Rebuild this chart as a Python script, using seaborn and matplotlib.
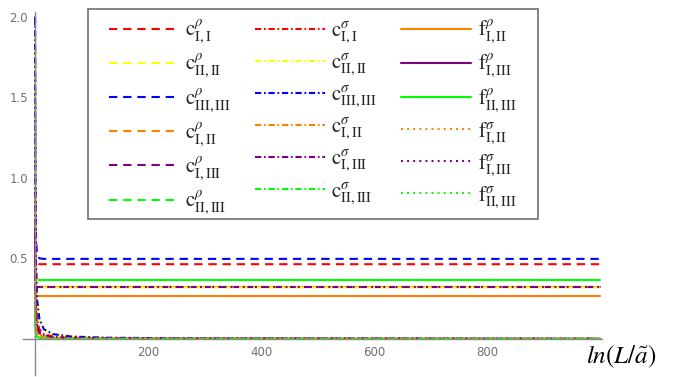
import numpy as np
import pandas as pd
import seaborn as sns
import matplotlib.pyplot as plt
from matplotlib.patches import Rectangle
from matplotlib.ticker import MultipleLocator, FixedLocator

# =========================================================
# DATA
# =========================================================

x_grid = [0.3, 1, 2, 4, 8, 16, 32, 64, 128, 256, 1000]

# c^rho diagonal terms settle on constants
c_rho_11 = [0.90, 0.62, 0.50, 0.47, 0.464, 0.464, 0.464, 0.464, 0.464, 0.464, 0.464]
c_rho_22 = [1.90, 0.90, 0.50, 0.36, 0.33, 0.321, 0.321, 0.321, 0.321, 0.321, 0.321]
c_rho_33 = [2.00, 1.00, 0.62, 0.52, 0.50, 0.497, 0.497, 0.497, 0.497, 0.497, 0.497]
# c^rho off-diagonal terms decay to zero
c_rho_12 = [0.50, 0.25, 0.12, 0.06, 0.030, 0.015, 0.008, 0.004, 0.002, 0.001, 0.0003]
c_rho_13 = [0.70, 0.35, 0.17, 0.09, 0.045, 0.022, 0.011, 0.006, 0.003, 0.0015, 0.0004]
c_rho_23 = [0.20, 0.06, 0.03, 0.015, 0.008, 0.004, 0.002, 0.001, 0.0005, 0.0002, 0.0001]
# c^sigma terms decay to zero
c_sig_11 = [1.00, 0.45, 0.24, 0.12, 0.060, 0.030, 0.015, 0.008, 0.004, 0.002, 0.0005]
c_sig_22 = [1.90, 0.90, 0.46, 0.23, 0.120, 0.058, 0.029, 0.014, 0.007, 0.0035, 0.0009]
c_sig_33 = [2.00, 0.95, 0.48, 0.24, 0.125, 0.060, 0.030, 0.015, 0.0075, 0.0037, 0.001]
c_sig_12 = [0.40, 0.18, 0.09, 0.045, 0.022, 0.011, 0.006, 0.003, 0.0015, 0.0007, 0.0002]
c_sig_13 = [0.65, 0.30, 0.15, 0.075, 0.038, 0.019, 0.009, 0.005, 0.0025, 0.0012, 0.0003]
c_sig_23 = [0.15, 0.05, 0.025, 0.012, 0.006, 0.003, 0.0015, 0.0008, 0.0004, 0.0002, 0.0001]
# f terms
f_rho_12 = [0.267] * len(x_grid)
f_rho_13 = [0.321] * len(x_grid)
f_rho_23 = [0.366] * len(x_grid)
f_sig_12 = [0.30, 0.12, 0.06, 0.03, 0.015, 0.008, 0.004, 0.002, 0.001, 0.0005, 0.0001]
f_sig_13 = [0.321] * len(x_grid)
f_sig_23 = [0.02, 0.01, 0.005, 0.002, 0.001, 0.0005, 0.0002, 0.0001, 0.0, 0.0, 0.0]

labels = [
    r"$\mathrm{c}^{\rho}_{\mathrm{I,I}}$", r"$\mathrm{c}^{\rho}_{\mathrm{II,II}}$",
    r"$\mathrm{c}^{\rho}_{\mathrm{III,III}}$", r"$\mathrm{c}^{\rho}_{\mathrm{I,II}}$",
    r"$\mathrm{c}^{\rho}_{\mathrm{I,III}}$", r"$\mathrm{c}^{\rho}_{\mathrm{II,III}}$",
    r"$\mathrm{c}^{\sigma}_{\mathrm{I,I}}$", r"$\mathrm{c}^{\sigma}_{\mathrm{II,II}}$",
    r"$\mathrm{c}^{\sigma}_{\mathrm{III,III}}$", r"$\mathrm{c}^{\sigma}_{\mathrm{I,II}}$",
    r"$\mathrm{c}^{\sigma}_{\mathrm{I,III}}$", r"$\mathrm{c}^{\sigma}_{\mathrm{II,III}}$",
    r"$\mathrm{f}^{\rho}_{\mathrm{I,II}}$", r"$\mathrm{f}^{\rho}_{\mathrm{I,III}}$",
    r"$\mathrm{f}^{\rho}_{\mathrm{II,III}}$", r"$\mathrm{f}^{\sigma}_{\mathrm{I,II}}$",
    r"$\mathrm{f}^{\sigma}_{\mathrm{I,III}}$", r"$\mathrm{f}^{\sigma}_{\mathrm{II,III}}$",
]
series = [c_rho_11, c_rho_22, c_rho_33, c_rho_12, c_rho_13, c_rho_23,
          c_sig_11, c_sig_22, c_sig_33, c_sig_12, c_sig_13, c_sig_23,
          f_rho_12, f_rho_13, f_rho_23, f_sig_12, f_sig_13, f_sig_23]

# =========================================================
# STYLES
# =========================================================

red, yellow, blue = "#ff0000", "#ffff00", "#0000ff"
orange, purple, green = "#ff8000", "#800080", "#00ff00"
colors = [red, yellow, blue, orange, purple, green] * 2 + [orange, purple, green] * 2

dashed = (0, (6, 4.2))
dashdot = (0, (4.5, 2, 1.2, 2))
dotted = (0, (1.4, 3))
styles = [dashed] * 6 + [dashdot] * 6 + ["-"] * 3 + [dotted] * 3

# drawing order (solid f lines underneath)
draw_order = [12, 13, 14] + list(range(12)) + [15, 16, 17]

sns.set_theme(style="white")
plt.rcParams["mathtext.fontset"] = "stix"
plt.rcParams["lines.scale_dashes"] = False
plt.rcParams["font.family"] = ["DejaVu Sans"]

axis_gray = "#8a8a8a"
label_gray = "#707070"

# =========================================================
# PLOT
# =========================================================

fig = plt.figure(figsize=(6.84, 3.77), dpi=100)
ax = fig.add_axes([23 / 684, 2 / 377, 579 / 684, 363 / 377])

handles = {}
for i in draw_order:
    df = pd.DataFrame({"x": x_grid, "y": series[i]})
    sns.lineplot(data=df, x="x", y="y", ax=ax, color=colors[i],
                 linestyle=styles[i], lw=1.5, legend=False)
    handles[i] = ax.lines[-1]

ax.set_xlim(-21, 1003)
ax.set_ylim(-0.224, 2.03)
ax.set_xlabel("")
ax.set_ylabel("")

for side in ["top", "right"]:
    ax.spines[side].set_visible(False)
ax.spines["left"].set_position(("data", 0))
ax.spines["bottom"].set_position(("data", 0))
for side in ["left", "bottom"]:
    ax.spines[side].set_color(axis_gray)
    ax.spines[side].set_linewidth(1.0)

ax.xaxis.set_major_locator(FixedLocator([200, 400, 600, 800, 1000]))
ax.set_xticklabels(["200", "400", "600", "800", ""])
ax.xaxis.set_minor_locator(MultipleLocator(50))
ax.yaxis.set_major_locator(FixedLocator([0.5, 1.0, 1.5, 2.0]))
ax.set_yticklabels(["0.5", "1.0", "1.5", "2.0"])
ax.yaxis.set_minor_locator(MultipleLocator(0.1))

ax.tick_params(which="major", direction="in", length=4, width=0.8,
               color=axis_gray, labelcolor=label_gray, labelsize=8.5, pad=5)
ax.tick_params(which="minor", direction="in", length=2, width=0.6,
               color=axis_gray)

fig.text(586 / 684, 1 - 357 / 377, r"$ln(L/\tilde{a})$", fontsize=18,
         ha="left", va="center", color="black")

# legend box drawn separately so its frame can sit where the reference has it
box = Rectangle((88 / 684, 1 - 219 / 377), 450 / 684, 210 / 377,
                transform=fig.transFigure, facecolor="white",
                edgecolor="#6f6f6f", lw=1.2, zorder=5, clip_on=False)
ax.add_patch(box)

leg = ax.legend([handles[i] for i in range(18)], labels, ncol=3,
                loc="upper left", bbox_to_anchor=(109 / 684, 1 - 18 / 377),
                bbox_transform=fig.transFigure, fontsize=15,
                handlelength=3.35, handletextpad=0.3, columnspacing=1.15,
                labelspacing=0.28, borderpad=0, borderaxespad=0,
                frameon=False)
leg.set_zorder(6)

fig.savefig("out.png", dpi=100)
